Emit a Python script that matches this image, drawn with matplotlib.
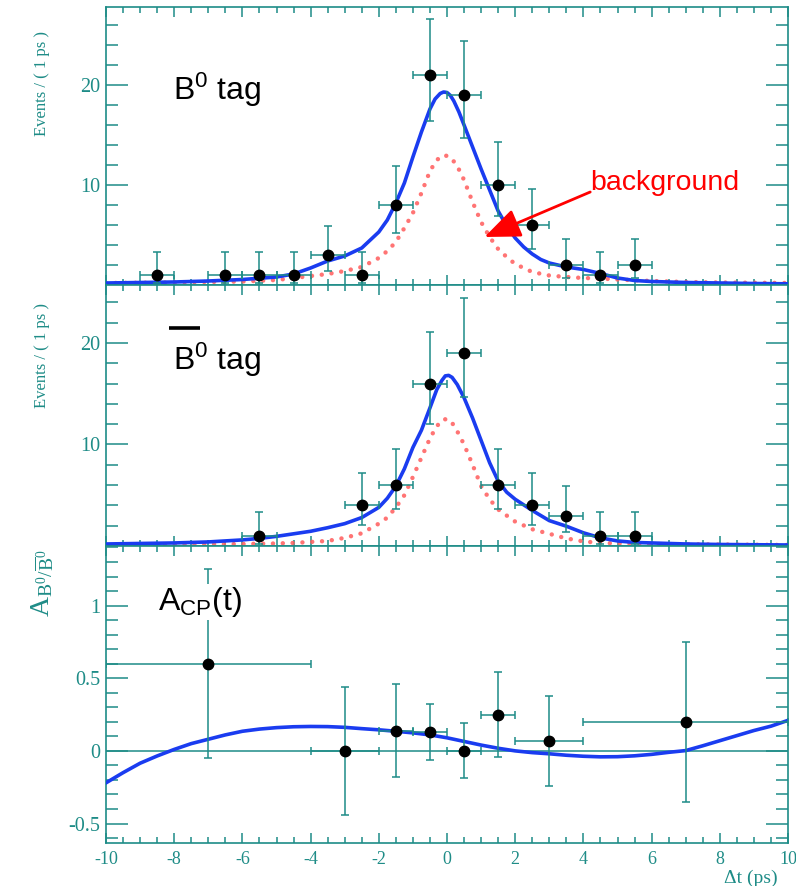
import numpy as np
import matplotlib.pyplot as plt
from matplotlib.ticker import MultipleLocator, FixedLocator

plt.rcParams['font.family'] = ['Liberation Serif', 'DejaVu Serif']
plt.rcParams['axes.unicode_minus'] = False

teal = '#1e8c87'
blue = '#1a3cf0'
bkg_red = '#ff5c5c'

# ---- B0 tagged events, 1 ps bins ----
t_b0 = [-8.5, -6.5, -5.5, -4.5, -3.5, -2.5, -1.5, -0.5, 0.5, 1.5, 2.5, 3.5, 4.5, 5.5]
n_b0 = [1, 1, 1, 1, 3, 1, 8, 21, 19, 10, 6, 2, 1, 2]
lo_b0 = [0.83, 0.83, 0.83, 0.83, 1.63, 0.83, 2.77, 4.56, 4.33, 3.11, 2.38, 1.29, 0.83, 1.29]
hi_b0 = [2.30, 2.30, 2.30, 2.30, 2.92, 2.30, 3.95, 5.62, 5.39, 4.26, 3.58, 2.64, 2.30, 2.64]

fit_t_b0 = [-10, -9, -8, -7, -6, -5, -4.5, -4, -3.5, -3, -2.5, -2, -1.75, -1.5, -1.25, -1,
            -0.75, -0.5, -0.35, -0.2, -0.1, 0, 0.1, 0.2, 0.35, 0.5, 0.75, 1, 1.25, 1.5, 1.75,
            2, 2.25, 2.5, 2.75, 3, 3.5, 4, 4.5, 5, 5.5, 6, 7, 8, 9, 10]
fit_b0 = [0.2, 0.25, 0.3, 0.4, 0.55, 0.8, 1.1, 1.7, 2.4, 2.9, 3.7, 5.3, 6.5, 8.2, 10.2, 12.8,
          15.3, 17.6, 18.6, 19.15, 19.3, 19.25, 18.95, 18.4, 17.3, 16.0, 13.8, 11.6, 9.5, 7.4,
          5.9, 4.7, 3.8, 3.1, 2.55, 2.2, 1.8, 1.55, 1.15, 0.7, 0.45, 0.35, 0.25, 0.2, 0.15, 0.12]

bkg_t_b0 = [-10, -8, -6, -5, -4.5, -4, -3.5, -3, -2.5, -2, -1.75, -1.5, -1.25, -1, -0.75,
            -0.5, -0.3, -0.1, 0.1, 0.3, 0.5, 0.75, 1, 1.25, 1.5, 1.75, 2, 2.5, 3, 3.5, 4,
            4.5, 5, 6, 7, 8, 10]
bkg_b0 = [0.2, 0.25, 0.35, 0.5, 0.7, 0.9, 1.1, 1.4, 1.8, 2.7, 3.4, 4.3, 5.7, 7.2, 9.2,
          11.4, 12.5, 13.0, 12.8, 11.9, 10.5, 8.3, 6.3, 4.8, 3.6, 2.8, 2.1, 1.3, 0.95, 0.8, 0.7,
          0.65, 0.55, 0.4, 0.3, 0.25, 0.2]

# ---- B0bar tagged events ----
t_b0bar = [-5.5, -2.5, -1.5, -0.5, 0.5, 1.5, 2.5, 3.5, 4.5, 5.5]
n_b0bar = [1, 4, 6, 16, 19, 6, 4, 3, 1, 1]
lo_b0bar = [0.83, 1.91, 2.38, 3.96, 4.33, 2.38, 1.91, 1.63, 0.83, 0.83]
hi_b0bar = [2.30, 3.16, 3.58, 5.04, 5.39, 3.58, 3.16, 2.92, 2.30, 2.30]

fit_t_b0bar = [-10, -9, -8, -7, -6, -5.5, -5, -4.5, -4, -3.5, -3, -2.5, -2, -1.75, -1.5,
               -1.25, -1, -0.75, -0.5, -0.3, -0.15, -0.05, 0.05, 0.15, 0.3, 0.5, 0.75, 1,
               1.25, 1.5, 1.75, 2, 2.5, 3, 3.5, 4, 4.5, 5, 5.5, 6, 7, 8, 10]
fit_b0bar = [0.2, 0.25, 0.3, 0.4, 0.6, 0.75, 0.95, 1.2, 1.45, 1.8, 2.2, 2.8, 3.8, 4.7, 5.9,
             7.6, 9.7, 11.4, 13.6, 15.4, 16.3, 16.75, 16.8, 16.6, 15.9, 14.6, 12.6, 10.4, 8.2,
             6.4, 5.3, 4.6, 3.5, 2.5, 1.95, 1.3, 0.8, 0.5, 0.35, 0.3, 0.2, 0.15, 0.1]

bkg_t_b0bar = [-10, -8, -6, -5, -4.5, -4, -3.5, -3, -2.5, -2, -1.75, -1.5, -1.25, -1, -0.75,
               -0.5, -0.3, -0.1, 0.1, 0.3, 0.5, 0.75, 1, 1.25, 1.5, 1.75, 2, 2.5, 3, 3.5, 4,
               4.5, 5, 6, 8, 10]
bkg_b0bar = [0.1, 0.15, 0.2, 0.25, 0.3, 0.4, 0.5, 0.8, 1.25, 2.2, 2.8, 3.8, 5.0, 6.8, 8.7,
             10.6, 11.8, 12.5, 12.4, 11.3, 10.0, 8.0, 5.9, 4.6, 3.6, 3.0, 2.4, 1.65, 1.2, 0.75,
             0.45, 0.3, 0.25, 0.2, 0.15, 0.1]

# ---- asymmetry ----
t_acp = [-7, -3, -1.5, -0.5, 0.5, 1.5, 3, 7]
dt_acp = [3, 1, 0.5, 0.5, 0.5, 0.5, 1, 3]
acp = [0.6, 0.0, 0.14, 0.13, 0.0, 0.25, 0.07, 0.2]
acp_err = [0.65, 0.44, 0.32, 0.19, 0.19, 0.29, 0.31, 0.55]

curve_t = [-10, -9.5, -9, -8.5, -8, -7.5, -7, -6.5, -6, -5.5, -5, -4.5, -4, -3.5, -3, -2.5,
           -2, -1.5, -1, -0.5, 0, 0.5, 1, 1.5, 2, 2.5, 3, 3.5, 4, 4.5, 5, 5.5, 6, 6.5, 7,
           7.5, 8, 8.5, 9, 9.5, 10]
curve_acp = [-0.22, -0.15, -0.085, -0.035, 0.01, 0.05, 0.08, 0.11, 0.135, 0.15, 0.16, 0.166,
             0.168, 0.167, 0.162, 0.153, 0.145, 0.135, 0.124, 0.11, 0.09, 0.065, 0.04, 0.018,
             0.0, -0.012, -0.02, -0.03, -0.037, -0.041, -0.04, -0.034, -0.024, -0.01, 0.002,
             0.035, 0.07, 0.105, 0.14, 0.17, 0.21]

x_ticks = [-10, -8, -6, -4, -2, 0, 2, 4, 6, 8, 10]

W, H = 796, 886
fig = plt.figure(figsize=(W / 100, H / 100), dpi=100)

def pane(top, bottom):
    return fig.add_axes([106 / W, 1 - bottom / H, 682 / W, (bottom - top) / H])

ax1 = pane(7, 285)
ax2 = pane(285, 546)
ax3 = pane(546, 843)

for ax in (ax1, ax2, ax3):
    ax.set_xlim(-10, 10)
    ax.xaxis.set_major_locator(FixedLocator(x_ticks))
    ax.xaxis.set_minor_locator(MultipleLocator(0.5))
    ax.tick_params(which='both', direction='in', top=True, right=True,
                   color=teal, labelcolor=teal, labelsize=14.5, width=1.1)
    ax.tick_params(axis='x', which='major', length=7, pad=6, labelsize=13)
    ax.tick_params(axis='x', which='minor', length=4)
    ax.tick_params(axis='y', which='major', length=16, pad=4)
    ax.tick_params(axis='y', which='minor', length=8.5)
    for s in ax.spines.values():
        s.set_color(teal)
        s.set_linewidth(1.2)

err_kw = dict(fmt='o', color='black', ms=7.5, ecolor=teal, elinewidth=1.1,
              capsize=2.8, capthick=1.1, zorder=5)

# event panels
for ax, t, n, lo, hi, ft, fv, bt, bv, top in (
        (ax1, t_b0, n_b0, lo_b0, hi_b0, fit_t_b0, fit_b0, bkg_t_b0, bkg_b0, 27.8),
        (ax2, t_b0bar, n_b0bar, lo_b0bar, hi_b0bar, fit_t_b0bar, fit_b0bar,
         bkg_t_b0bar, bkg_b0bar, 25.7)):
    ax.plot(bt, bv, color=bkg_red, lw=3.2, ls=(0, (0.01, 2.2)),
            dash_capstyle='round', alpha=0.85, zorder=2)
    ax.plot(ft, fv, color=blue, lw=2.6, zorder=3, solid_joinstyle='round')
    ax.errorbar(t, n, xerr=0.5, yerr=[lo, hi], **err_kw)
    ax.set_ylim(0, top)
    ax.yaxis.set_major_locator(FixedLocator([10, 20]))
    ax.yaxis.set_minor_locator(MultipleLocator(2))
    ax.tick_params(axis='x', labelbottom=False)

# asymmetry panel
ax3.axhline(0, color=teal, lw=1.1, zorder=1)
ax3.plot(curve_t, curve_acp, color=blue, lw=2.6, zorder=3)
ax3.errorbar(t_acp, acp, xerr=dt_acp, yerr=acp_err, **err_kw)
ax3.set_ylim(-0.634, 1.41)
ax3.yaxis.set_major_locator(FixedLocator([-0.5, 0, 0.5, 1]))
ax3.yaxis.set_minor_locator(MultipleLocator(0.1))
ax3.yaxis.set_major_formatter(lambda v, pos: f'{v:g}')
ax3.xaxis.set_major_formatter(lambda v, pos: f'{v:g}')

# axis titles
for yc in (83, 356):
    fig.text(42 / W, 1 - yc / H, 'Events / ( 1 ps )', rotation=90, ha='center',
             va='center', color=teal, fontsize=12)
fig.text(43 / W, 1 - 583 / H, r'A$\mathregular{_{B^0/\overline{B}^0}}$', rotation=90,
         ha='center', va='center', color=teal, fontsize=20)
fig.text(778 / W, 1 - 878 / H, 'Δt (ps)', ha='right', va='center', color=teal, fontsize=14)

# panel captions
sans = ['Liberation Sans', 'DejaVu Sans']
ax1.text(0.098, 0.665, r'B$\mathregular{^0}$ tag', transform=ax1.transAxes,
         family=sans, fontsize=23, va='baseline')
ax2.text(0.098, 0.673, r'B$\mathregular{^0}$ tag', transform=ax2.transAxes,
         family=sans, fontsize=23, va='baseline')
ax2.plot([0.0924, 0.138], [0.836, 0.836], transform=ax2.transAxes, color='black',
         lw=2.6, solid_capstyle='butt')
ax3.text(0.0758, 0.785, r'A$\mathregular{_{CP}}$(t)', transform=ax3.transAxes,
         family=sans, fontsize=23, va='baseline', zorder=6,
         bbox=dict(facecolor='white', edgecolor='none', pad=1))

ax1.text(4.2, 9.5, 'background', color='red', family=sans, fontsize=20.5, va='baseline')
ax1.annotate('', xy=(1.1, 4.8), xytext=(4.2, 9.3),
             arrowprops=dict(arrowstyle='-|>,head_length=1.1,head_width=0.45',
                             mutation_scale=20, color='red', lw=2,
                             shrinkA=0, shrinkB=0), zorder=6)

fig.savefig('out.png', dpi=100)
